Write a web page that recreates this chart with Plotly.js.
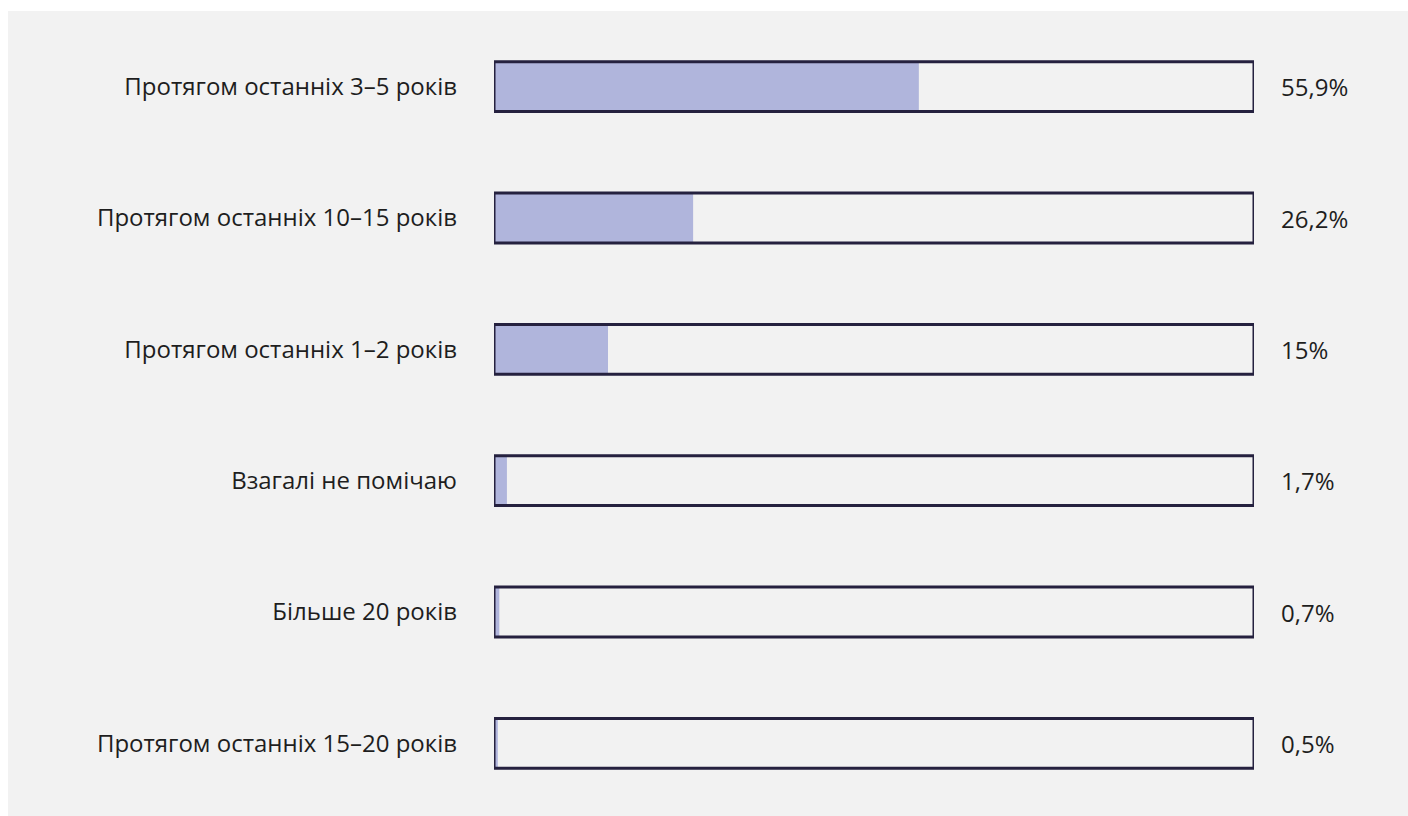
<!DOCTYPE html>
<html>
<head>
<meta charset="utf-8">
<script src="https://cdn.plot.ly/plotly-3.0.1.min.js"></script>
<style>
  html, body { margin: 0; padding: 0; background: #ffffff; width: 1408px; height: 816px; overflow: hidden; }
  #chart { position: absolute; left: 8px; top: 11px; width: 1400px; height: 805px; }
</style>
</head>
<body>
<div id="chart"></div>
<script>
const categories = [
  "Протягом останніх 3–5 років",
  "Протягом останніх 10–15 років",
  "Протягом останніх 1–2 років",
  "Взагалі не помічаю",
  "Більше 20 років",
  "Протягом останніх 15–20 років"
];
const values = [55.9, 26.2, 15, 1.7, 0.7, 0.5];
const totals = categories.map(() => 100);

const fmt = v => String(v).replace('.', ',') + '%';

const fillTrace = {
  type: 'bar',
  orientation: 'h',
  y: categories,
  x: values,
  width: 0.38,
  marker: { color: '#b0b5dc', line: { width: 0 } },
  hoverinfo: 'skip',
  showlegend: false
};
const frameTrace = {
  type: 'bar',
  orientation: 'h',
  y: categories,
  x: totals,
  width: 0.38,
  marker: { color: 'rgba(0,0,0,0)', line: { color: '#25213f', width: 3 } },
  hoverinfo: 'skip',
  showlegend: false
};

const annotations = categories.map((c, i) => ({
  x: 100, y: c, xref: 'x', yref: 'y',
  text: fmt(values[i]),
  showarrow: false,
  xanchor: 'left',
  xshift: 25,
  font: { family: 'Open Sans, sans-serif', size: 24, color: '#1e1e1e' }
}));

const layout = {
  width: 1400, height: 805,
  paper_bgcolor: '#f2f2f2',
  plot_bgcolor: '#f2f2f2',
  barmode: 'overlay',
  margin: { l: 486, r: 153.5, t: 10.4, b: 7.4, pad: 0 },
  font: { family: 'Open Sans, sans-serif', size: 24, color: '#1e1e1e' },
  xaxis: { range: [0, 100], visible: false, fixedrange: true },
  yaxis: {
    type: 'category',
    categoryorder: 'array',
    categoryarray: categories,
    range: [5.5, -0.5],
    showgrid: false, zeroline: false, showline: false,
    ticks: '',
    ticklabelstandoff: 36,
    automargin: false,
    tickfont: { family: 'Open Sans, sans-serif', size: 24, color: '#1e1e1e' }
  },
  annotations: annotations
};

Plotly.newPlot('chart', [fillTrace, frameTrace], layout, { displayModeBar: false, staticPlot: true });
</script>
</body>
</html>
